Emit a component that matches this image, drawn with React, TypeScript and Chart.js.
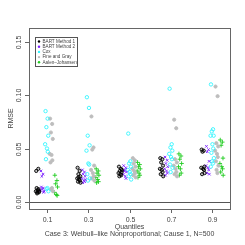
import React, { useEffect, useRef } from "react";
import { Chart, registerables } from "chart.js";

Chart.register(...registerables);

const QUANTILES = [0.1, 0.3, 0.5, 0.7, 0.9];
const TICK_X = ["0.1", "0.3", "0.5", "0.7", "0.9"];
const TICK_Y = [0, 0.05, 0.1, 0.15];
const TICK_Y_LABELS = ["0.00", "0.05", "0.10", "0.15"];
const METHODS = ["BART Method 1", "BART Method 2", "Cox", "Fine and Gray", "Aalen\u2013Johansen"];
const OFFSETS = [-0.045, -0.022, 0, 0.022, 0.045];
const JITTER = [-0.006, 0.004, -0.002, 0.007, -0.008, 0.001, 0.005, -0.004, 0.008, -0.001, 0.003, -0.007];

const BART1 = [
  [0.029, 0.031, 0.008, 0.009, 0.010, 0.011, 0.012, 0.013, 0.010, 0.009],
  [0.032, 0.029, 0.026, 0.024, 0.022, 0.021, 0.020, 0.019, 0.018, 0.023],
  [0.033, 0.031, 0.029, 0.028, 0.027, 0.026, 0.025, 0.024, 0.030],
  [0.041, 0.040, 0.037, 0.034, 0.031, 0.030, 0.028, 0.026, 0.024],
  [0.049, 0.048, 0.047, 0.033, 0.032, 0.031, 0.030, 0.026, 0.027],
];
const BART2 = [
  [0.029, 0.026, 0.024, 0.009, 0.011, 0.012, 0.013, 0.014, 0.010],
  [0.030, 0.028, 0.026, 0.024, 0.022, 0.020, 0.019, 0.018, 0.021],
  [0.034, 0.032, 0.030, 0.028, 0.026, 0.024, 0.022, 0.029],
  [0.042, 0.039, 0.036, 0.033, 0.031, 0.029, 0.027, 0.025],
  [0.052, 0.049, 0.047, 0.038, 0.034, 0.032, 0.030, 0.027, 0.026],
];
const COX = [
  [0.085, 0.078, 0.070, 0.062, 0.054, 0.050, 0.047, 0.040, 0.010, 0.012, 0.013],
  [0.098, 0.088, 0.062, 0.053, 0.048, 0.036, 0.035, 0.026, 0.022, 0.020],
  [0.064, 0.038, 0.036, 0.033, 0.030, 0.028, 0.026, 0.024, 0.021],
  [0.106, 0.054, 0.051, 0.048, 0.045, 0.042, 0.040, 0.035, 0.032, 0.028],
  [0.110, 0.068, 0.066, 0.062, 0.062, 0.054, 0.050, 0.046, 0.041, 0.038, 0.036, 0.033],
];
const FINEGRAY = [
  [0.078, 0.073, 0.065, 0.059, 0.045, 0.044, 0.039, 0.037, 0.010, 0.012, 0.013],
  [0.080, 0.051, 0.049, 0.034, 0.030, 0.027, 0.024, 0.022, 0.020],
  [0.041, 0.039, 0.036, 0.033, 0.031, 0.029, 0.027, 0.025, 0.023],
  [0.077, 0.069, 0.040, 0.037, 0.034, 0.031, 0.028, 0.026, 0.024],
  [0.108, 0.099, 0.055, 0.052, 0.048, 0.045, 0.042, 0.038, 0.034, 0.030, 0.027],
];
const AALEN = [
  [0.025, 0.020, 0.017, 0.014, 0.009, 0.007, 0.006],
  [0.031, 0.029, 0.027, 0.025, 0.023, 0.021, 0.019, 0.018],
  [0.037, 0.035, 0.033, 0.031, 0.029, 0.027, 0.025, 0.023],
  [0.045, 0.043, 0.040, 0.036, 0.033, 0.031, 0.027, 0.025],
  [0.058, 0.056, 0.053, 0.041, 0.036, 0.033, 0.031, 0.028, 0.025],
];

const SERIES = [BART1, BART2, COX, FINEGRAY, AALEN];
const COLORS = ["#000000", "#7a1fff", "#33f5ff", "#bdbdbd", "#1fcc1f"];
const STYLES = ["circle", "crossRot", "circle", "circle", "cross"];
const FILLS = ["rgba(0,0,0,0.25)", "#7a1fff", "rgba(255,255,255,0)", "#bdbdbd", "#1fcc1f"];
const RADII = [1.6, 1.8, 1.7, 1.6, 2.2];

const FONT = "'Liberation Sans', Arial, sans-serif";

function toPoints(groups: number[][], m: number) {
  const pts: { x: number; y: number }[] = [];
  groups.forEach((vals, g) => {
    vals.forEach((v, i) => {
      pts.push({ x: QUANTILES[g] + OFFSETS[m] + JITTER[i % JITTER.length], y: v });
    });
  });
  return pts;
}

const rPlot = {
  id: "rPlot",
  afterDatasetsDraw(chart: any) {
    const ctx = chart.ctx;
    const a = chart.chartArea;
    const xs = chart.scales.x;
    const ys = chart.scales.y;
    ctx.save();
    ctx.strokeStyle = "#555";
    ctx.lineWidth = 1;
    const y0 = Math.round(ys.getPixelForValue(0)) + 0.5;
    ctx.beginPath();
    ctx.moveTo(a.left, y0);
    ctx.lineTo(a.right, y0);
    ctx.stroke();
    ctx.strokeStyle = "#666";
    ctx.strokeRect(Math.round(a.left) + 0.5, Math.round(a.top) + 0.5, Math.round(a.right - a.left), Math.round(a.bottom - a.top));
    ctx.fillStyle = "#444";
    ctx.font = `7px ${FONT}`;
    ctx.textAlign = "center";
    ctx.textBaseline = "middle";
    QUANTILES.forEach((q, i) => {
      const px = Math.round(xs.getPixelForValue(q)) + 0.5;
      ctx.beginPath();
      ctx.moveTo(px, a.bottom);
      ctx.lineTo(px, a.bottom + 4);
      ctx.stroke();
      ctx.fillText(TICK_X[i], px, 220);
    });
    TICK_Y.forEach((t, i) => {
      const py = Math.round(ys.getPixelForValue(t)) + 0.5;
      ctx.beginPath();
      ctx.moveTo(a.left, py);
      ctx.lineTo(a.left - 4, py);
      ctx.stroke();
      ctx.save();
      ctx.translate(19, py);
      ctx.rotate(-Math.PI / 2);
      ctx.fillText(TICK_Y_LABELS[i], 0, 0);
      ctx.restore();
    });
    ctx.fillText("Quantiles", (a.left + a.right) / 2, 227);
    ctx.fillText("Case 3: Weibull\u2013like Nonproportional; Cause 1, N=500", (a.left + a.right) / 2, 234);
    ctx.save();
    ctx.translate(11, (a.top + a.bottom) / 2);
    ctx.rotate(-Math.PI / 2);
    ctx.fillText("RMSE", 0, 0);
    ctx.restore();
    const lx = 35.5, ly = 37.5, lw = 42, lh = 29;
    ctx.fillStyle = "#fff";
    ctx.fillRect(lx, ly, lw, lh);
    ctx.strokeStyle = "#555";
    ctx.strokeRect(lx, ly, lw, lh);
    ctx.font = `4.6px ${FONT}`;
    ctx.textAlign = "left";
    METHODS.forEach((name, i) => {
      const yy = 41.5 + i * 5.2;
      ctx.fillStyle = COLORS[i];
      ctx.beginPath();
      ctx.arc(39, yy, 1.2, 0, Math.PI * 2);
      ctx.fill();
      ctx.fillStyle = "#444";
      ctx.fillText(name, 42.5, yy);
    });
    ctx.restore();
  },
};

export default function App() {
  const ref = useRef<HTMLCanvasElement>(null);
  useEffect(() => {
    const chart = new Chart(ref.current as HTMLCanvasElement, {
      type: "scatter",
      data: {
        datasets: SERIES.map((s, m) => ({
          label: METHODS[m],
          data: toPoints(s, m),
          pointStyle: STYLES[m] as any,
          pointRadius: RADII[m],
          pointBorderWidth: 0.9,
          borderColor: COLORS[m],
          backgroundColor: FILLS[m],
          pointBackgroundColor: FILLS[m],
          pointBorderColor: COLORS[m],
        })),
      },
      options: {
        animation: false,
        responsive: false,
        maintainAspectRatio: false,
        layout: { padding: { left: 29, top: 28, right: 15, bottom: 36 } },
        plugins: { legend: { display: false }, tooltip: { enabled: false } },
        scales: {
          x: { type: "linear", display: false, min: 0.014, max: 0.986 },
          y: { type: "linear", display: false, min: -0.0066, max: 0.1628 },
        },
      },
      plugins: [rPlot],
    });
    return () => chart.destroy();
  }, []);
  return (
    <div style={{ position: "fixed", left: 0, top: 0, width: 245, height: 245, background: "#fff" }}>
      <canvas ref={ref} width={245} height={245} />
    </div>
  );
}
